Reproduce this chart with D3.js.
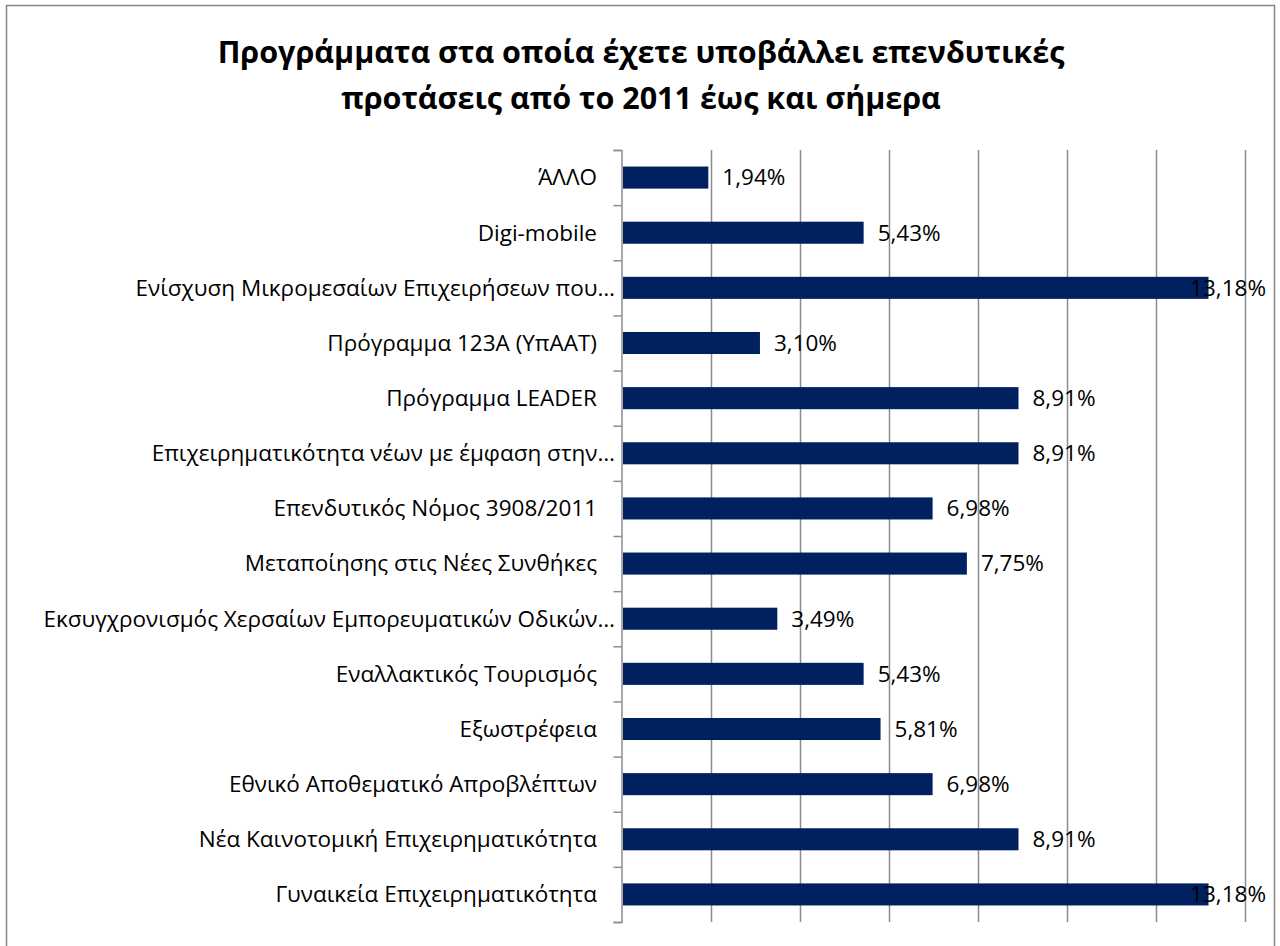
<!DOCTYPE html>
<html>
<head>
<meta charset="utf-8">
<script src="https://cdn.jsdelivr.net/npm/d3@7"></script>
<style>
  body { margin: 0; background: #fff; }
  text { font-family: "Open Sans", "Noto Sans", sans-serif; }
</style>
</head>
<body>
<div id="chart"></div>
<script>
// DATA
var titleLines = [
  "Προγράμματα στα οποία έχετε υποβάλλει επενδυτικές",
  "προτάσεις από το 2011 έως και σήμερα"
];

var categories = [
  "ΆΛΛΟ",
  "Digi-mobile",
  "Ενίσχυση Μικρομεσαίων Επιχειρήσεων που…",
  "Πρόγραμμα 123Α (ΥπΑΑΤ)",
  "Πρόγραμμα LEADER",
  "Επιχειρηματικότητα νέων με έμφαση στην…",
  "Επενδυτικός Νόμος 3908/2011",
  "Μεταποίησης στις Νέες Συνθήκες",
  "Εκσυγχρονισμός Χερσαίων Εμπορευματικών Οδικών…",
  "Εναλλακτικός Τουρισμός",
  "Εξωστρέφεια",
  "Εθνικό Αποθεματικό Απροβλέπτων",
  "Νέα Καινοτομική Επιχειρηματικότητα",
  "Γυναικεία Επιχειρηματικότητα"
];

var values = [1.94, 5.43, 13.18, 3.10, 8.91, 8.91, 6.98, 7.75, 3.49, 5.43, 5.81, 6.98, 8.91, 13.18];

var xTicks = [0, 2, 4, 6, 8, 10, 12, 14];

// LAYOUT
var width = 1280,
  height = 946;
var plot = { left: 622, right: 1245, top: 150, bottom: 922 };
var frame = { left: 6, top: 5, right: 1274, bottom: 960 };

var data = categories.map(function (c, i) {
  return { name: c, value: values[i] };
});

var svg = d3.select("#chart").append("svg")
  .attr("width", width)
  .attr("height", height);

// outer chart frame
svg.append("rect")
  .attr("x", frame.left + 0.5)
  .attr("y", frame.top + 0.5)
  .attr("width", frame.right - frame.left)
  .attr("height", frame.bottom - frame.top)
  .attr("fill", "#fff")
  .attr("stroke", "#868686")
  .attr("stroke-width", 1.5);

// title
svg.append("g").selectAll("text")
  .data(titleLines)
  .enter()
  .append("text")
  .attr("x", 641)
  .attr("y", function (d, i) { return 63 + i * 46; })
  .attr("text-anchor", "middle")
  .style("font-size", "30.5px")
  .style("font-weight", "bold")
  .attr("fill", "#000")
  .text(function (d) { return d; });

var xScale = d3.scaleLinear().domain([0, 14]).range([plot.left, plot.right]);

var yScale = d3.scaleBand()
  .domain(categories)
  .range([plot.top, plot.bottom])
  .paddingInner(0.6)
  .paddingOuter(0.3);

var yIndex = d3.scaleLinear().domain([0, categories.length]).range([plot.top, plot.bottom]);

// gridlines
svg.append("g")
  .selectAll("line")
  .data(xTicks.slice(1))
  .enter()
  .append("line")
  .attr("x1", function (d) { return Math.round(xScale(d)) + 0.5; })
  .attr("x2", function (d) { return Math.round(xScale(d)) + 0.5; })
  .attr("y1", plot.top)
  .attr("y2", plot.bottom)
  .attr("stroke", "#8c8c8c")
  .attr("stroke-width", 1.5);

// bars
svg.append("g")
  .selectAll("rect")
  .data(data)
  .enter()
  .append("rect")
  .attr("x", xScale(0) + 1)
  .attr("y", function (d) { return yScale(d.name); })
  .attr("width", function (d) { return xScale(d.value) - xScale(0) - 1; })
  .attr("height", yScale.bandwidth())
  .attr("fill", "#002060");

// y axis with ticks at category boundaries
var yAxis = svg.append("g")
  .attr("transform", "translate(" + (plot.left - 0.5) + ",0)")
  .call(d3.axisLeft(yIndex).ticks(categories.length).tickSize(8).tickFormat(""));
yAxis.select(".domain")
  .attr("stroke", "#8c8c8c")
  .attr("stroke-width", 1.5);
yAxis.selectAll(".tick line")
  .attr("stroke", "#8c8c8c")
  .attr("stroke-width", 1.5);

// category labels
svg.append("g")
  .selectAll("text")
  .data(data)
  .enter()
  .append("text")
  .attr("x", function (d) {
    return plot.left - (d.name.slice(-1) == "…" ? 7 : 25);
  })
  .attr("y", function (d) { return yScale(d.name) + yScale.bandwidth() / 2; })
  .attr("dy", "0.35em")
  .attr("text-anchor", "end")
  .style("font-size", "22.5px")
  .attr("fill", "#000")
  .text(function (d) { return d.name; });

// value labels (pulled back inside frame when they'd overflow)
var fmt = function (v) { return d3.format(".2f")(v).replace(".", ",") + "%"; };

svg.append("g")
  .selectAll("text")
  .data(data)
  .enter()
  .append("text")
  .attr("y", function (d) { return yScale(d.name) + yScale.bandwidth() / 2; })
  .attr("dy", "0.35em")
  .style("font-size", "22.5px")
  .attr("fill", "#000")
  .text(function (d) { return fmt(d.value); })
  .attr("x", function (d) {
    var w = this.getComputedTextLength();
    return Math.min(xScale(d.value) + 14, frame.right - 8 - w);
  });
</script>
</body>
</html>
